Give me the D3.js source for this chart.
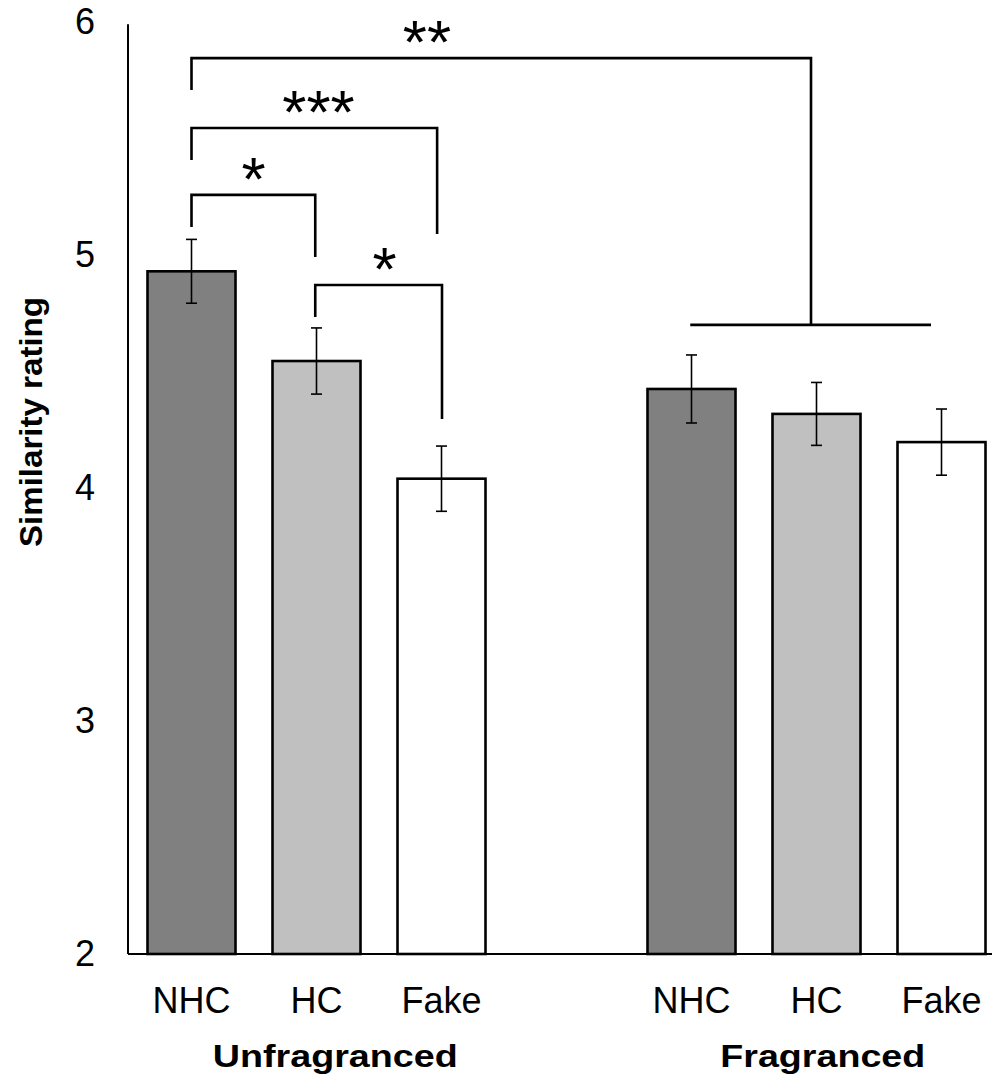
<!DOCTYPE html>
<html>
<head>
<meta charset="utf-8">
<script src="https://cdn.jsdelivr.net/npm/d3@7"></script>
<style>
  body { margin: 0; background: #fff; }
  text { font-family: "Liberation Sans", Arial, sans-serif; fill: #000; }
</style>
</head>
<body>
<div class="chart"></div>
<script>
// data
var slots = ["U-NHC", "U-HC", "U-Fake", "gap", "F-NHC", "F-HC", "F-Fake"];
var barKeys = ["U-NHC", "U-HC", "U-Fake", "F-NHC", "F-HC", "F-Fake"];
var barLabels = ["NHC", "HC", "Fake", "NHC", "HC", "Fake"];
var means = [4.93, 4.545, 4.04, 4.425, 4.318, 4.197];
var errors = [0.137, 0.142, 0.14, 0.146, 0.135, 0.142];
var fills = ["#808080", "#c0c0c0", "#ffffff", "#808080", "#c0c0c0", "#ffffff"];
var groupNames = ["Unfragranced", "Fragranced"];
var yTicks = [2, 3, 4, 5, 6];

// significance brackets, x in slot units, heights in rating units
var brackets = [
  { from: 0, to: 4.956, top: 5.845, leftEnd: 5.708, rightEnd: 4.70, label: "**", at: 1.884 },
  { from: 0, to: 1.965, top: 5.545, leftEnd: 5.408, rightEnd: 5.09, label: "***", at: 1.016 },
  { from: 0, to: 0.99, top: 5.258, leftEnd: 5.12, rightEnd: 4.991, label: "*", at: 0.496 },
  { from: 0.99, to: 2.004, top: 4.871, leftEnd: 4.734, rightEnd: 4.296, label: "*", at: 1.544 }
];
var groupLine = { from: 3.99, to: 5.916, level: 4.70 };

var width = 992, height = 1079;

var svg = d3.select(".chart").append("svg")
    .attr("width", width)
    .attr("height", height);

var x = d3.scaleBand()
    .domain(slots)
    .range([129, 1004])
    .paddingInner(0.296)
    .paddingOuter(0.148);

var y = d3.scaleLinear()
    .domain([2, 6])
    .range([954, 22]);

// slot index -> bar centre
var xs = d3.scaleLinear()
    .domain([0, 6])
    .range([x(slots[0]) + x.bandwidth() / 2, x(slots[6]) + x.bandwidth() / 2]);

// y axis
var yAxis = svg.append("g")
    .attr("transform", "translate(128,0)")
    .call(d3.axisLeft(y).tickValues(yTicks).tickFormat(d3.format("d")).tickSize(0).tickPadding(33));
yAxis.select(".domain").attr("stroke", "#000").attr("stroke-width", 2).attr("d", "M0," + y(5.99) + "V" + y(2));
yAxis.selectAll("text").style("font-size", "36px").style("font-family", "'Liberation Sans', Arial, sans-serif");

// bars
var bars = svg.append("g").selectAll(".bar")
    .data(barKeys)
    .enter().append("rect")
      .attr("class", "bar")
      .attr("x", function(d) { return x(d); })
      .attr("y", function(d, i) { return y(means[i]); })
      .attr("width", x.bandwidth())
      .attr("height", function(d, i) { return y(2) - y(means[i]); })
      .style("fill", function(d, i) { return fills[i]; })
      .style("stroke", "#000")
      .style("stroke-width", 2.6);

// error bars
var err = svg.append("g").selectAll(".err")
    .data(barKeys)
    .enter().append("g")
      .attr("class", "err")
      .attr("transform", function(d) { return "translate(" + (x(d) + x.bandwidth() / 2) + ",0)"; })
      .style("stroke", "#000")
      .style("stroke-width", 1.6);

err.append("line")
    .attr("y1", function(d, i) { return y(means[i] + errors[i]); })
    .attr("y2", function(d, i) { return y(means[i] - errors[i]); });
err.append("line")
    .attr("x1", -5.5).attr("x2", 5.5)
    .attr("y1", function(d, i) { return y(means[i] + errors[i]); })
    .attr("y2", function(d, i) { return y(means[i] + errors[i]); });
err.append("line")
    .attr("x1", -5.5).attr("x2", 5.5)
    .attr("y1", function(d, i) { return y(means[i] - errors[i]); })
    .attr("y2", function(d, i) { return y(means[i] - errors[i]); });

// x axis
var xAxis = svg.append("g")
    .attr("transform", "translate(0," + y(2) + ")")
    .call(d3.axisBottom(x).tickSize(0).tickSizeOuter(0).tickPadding(33)
      .tickFormat(function(d) { var i = barKeys.indexOf(d); return i < 0 ? "" : barLabels[i]; }));
xAxis.select(".domain").attr("stroke", "#000").attr("stroke-width", 2).attr("d", "M128,0H992");
xAxis.selectAll("text").style("font-size", "36px").style("font-family", "'Liberation Sans', Arial, sans-serif");

// group labels
svg.selectAll(".group")
    .data(groupNames)
    .enter().append("text")
      .attr("class", "group")
      .attr("x", function(d, i) { return i === 0 ? xs(1.15) : xs(5.05); })
      .attr("y", 1067)
      .attr("text-anchor", "middle")
      .attr("textLength", function(d, i) { return i === 0 ? 245 : 205; })
      .attr("lengthAdjust", "spacingAndGlyphs")
      .style("font-size", "31px")
      .style("font-weight", "bold")
      .text(function(d) { return d; });

// y label
svg.append("text")
    .attr("transform", "translate(42," + 422 + ") rotate(-90)")
    .attr("text-anchor", "middle")
    .attr("textLength", 250)
    .attr("lengthAdjust", "spacingAndGlyphs")
    .style("font-size", "32px")
    .style("font-weight", "bold")
    .text("Similarity rating");

// significance brackets
var sig = svg.append("g").selectAll(".sig")
    .data(brackets)
    .enter().append("g")
      .attr("class", "sig");

sig.append("path")
    .attr("d", function(b) {
      return "M" + xs(b.from) + "," + y(b.leftEnd) + "V" + y(b.top) + "H" + xs(b.to) + "V" + y(b.rightEnd);
    })
    .style("fill", "none")
    .style("stroke", "#000")
    .style("stroke-width", 2.6);

sig.append("text")
    .attr("x", function(b) { return xs(b.at); })
    .attr("y", function(b) { return y(b.top) + 5; })
    .attr("text-anchor", "middle")
    .style("font-size", "62px")
    .text(function(b) { return b.label; });

svg.append("line")
    .attr("x1", xs(groupLine.from)).attr("x2", xs(groupLine.to))
    .attr("y1", y(groupLine.level)).attr("y2", y(groupLine.level))
    .style("stroke", "#000")
    .style("stroke-width", 2.6);
</script>
</body>
</html>
